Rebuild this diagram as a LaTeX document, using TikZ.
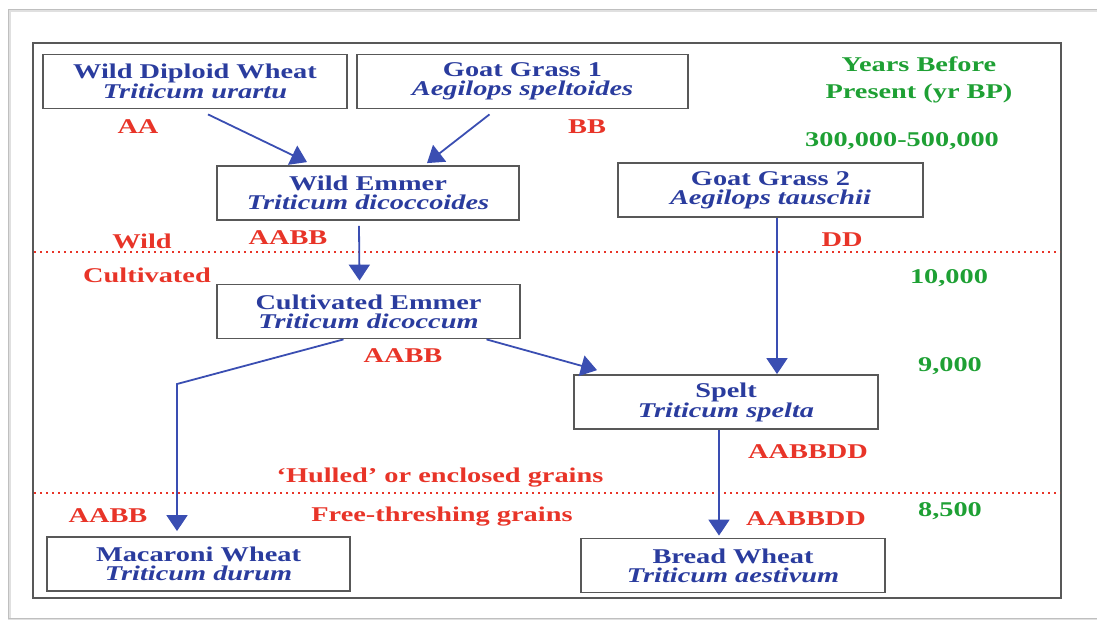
\documentclass[tikz,border=0pt]{standalone}
\usepackage{fontspec}
\setmainfont{Liberation Serif}[FakeStretch=1.35]
\usetikzlibrary{arrows.meta}

\definecolor{spblue}{RGB}{42,60,158}
\definecolor{arrowblue}{RGB}{58,78,178}
\definecolor{genred}{RGB}{232,52,40}
\definecolor{yrgreen}{RGB}{30,160,52}
\definecolor{framegray}{RGB}{88,88,88}

\begin{document}
\begin{tikzpicture}[x=1pt, y=-1pt,
    font=\fontsize{21}{19}\selectfont\bfseries,
    spbox/.style={draw=framegray, line width=1.8pt, text=spblue, align=center,
        inner sep=0pt, minimum height=54pt},
    flow/.style={draw=arrowblue, line width=1.8pt, -{Triangle[width=21pt,length=16pt]}},
    genome/.style={text=genred, anchor=base, inner sep=0pt},
    yearlabel/.style={text=yrgreen, anchor=base, inner sep=0pt},
    zoneline/.style={draw=genred, line width=2pt, dash pattern=on 2pt off 4pt}]
    \useasboundingbox (0,0) rectangle (1097,619);
    \clip (0,0) rectangle (1097,619);

    % outer page frame and inner frame
    \draw[black!12, line width=3pt] (9,10) rectangle (1110,619);
    \draw[black!25, line width=1pt] (8,9) rectangle (1110,618);
    \draw[framegray, line width=1.8pt] (33,43) rectangle (1061,598);

    % species boxes
    \node[spbox, minimum width=304pt] (wdw) at (195,81.5) {Wild Diploid Wheat\\\itshape Triticum urartu};
    \node[spbox, minimum width=331pt] (gg1) at (522.5,81.5) {Goat Grass 1\\\itshape Aegilops speltoides};
    \node[spbox, minimum width=302pt] (wemmer) at (368,193) {Wild Emmer\\\itshape Triticum dicoccoides};
    \node[spbox, minimum width=305pt] (gg2) at (770.5,190) {Goat Grass 2\\\itshape Aegilops tauschii};
    \node[spbox, minimum width=303pt] (cemmer) at (368.5,311.5) {Cultivated Emmer\\\itshape Triticum dicoccum};
    \node[spbox, minimum width=304pt] (spelt) at (726,402) {Spelt\\\itshape Triticum spelta};
    \node[spbox, minimum width=303pt] (macaroni) at (198.5,564) {Macaroni Wheat\\\itshape Triticum durum};
    \node[spbox, minimum width=304pt] (bread) at (733,565.5) {Bread Wheat\\\itshape Triticum aestivum};

    % zone dividers
    \draw[zoneline] (34,252) -- (1060,252);
    \draw[zoneline] (34,493) -- (1060,493);

    % arrows
    \draw[flow] ([xshift=13pt,yshift=-5pt]wdw.south) -- ([xshift=-61pt,yshift=3pt]wemmer.north);
    \draw[flow] ([xshift=-33pt,yshift=-5pt]gg1.south) -- ([xshift=59pt,yshift=2pt]wemmer.north);
    \draw[flow] ([xshift=-9pt,yshift=-5pt]wemmer.south) -- ([xshift=-9pt,yshift=3pt]cemmer.north);
    \draw[flow] ([xshift=6.5pt]gg2.south) -- ([xshift=6.5pt]gg2.south |- spelt.north);
    \draw[flow] ([xshift=118pt]cemmer.south) -- ([xshift=-129pt,yshift=4pt]spelt.north);
    \coordinate (bend) at (177,384);
    \draw[flow, shorten >=5pt] ([xshift=-25pt]cemmer.south) -- (bend) -- (bend |- macaroni.north);
    \draw[flow, shorten >=2pt] ([xshift=-7pt]spelt.south) -- ([xshift=-7pt]spelt.south |- bread.north);

    % genomes and zone labels
    \node[genome] (aa) at (138,133) {AA};
    \node[genome] (bb) at (587,133) {BB};
    \node[genome] (wild) at (142,248) {Wild};
    \node[genome] (aabbwild) at (288,244) {AABB};
    \node[genome] (cult) at (147,282) {Cultivated};
    \node[genome] (dd) at (842,246) {DD};
    \node[genome] (aabbcult) at (403,362) {AABB};
    \node[genome] (hulled) at (440,482) {‘Hulled’ or enclosed grains};
    \node[genome] (free) at (442,521) {Free-threshing grains};
    \node[genome] (aabbdur) at (108,522) {AABB};
    \node[genome] (aabbddsp) at (808,458) {AABBDD};
    \node[genome] (aabbddbr) at (806,525) {AABBDD};

    % time scale
    \node[text=yrgreen, align=center, inner sep=0pt, font=\fontsize{21}{27}\selectfont\bfseries] (ybp) at (919,80) {Years Before\\Present (yr BP)};
    \node[yearlabel] (y1) at (902,146) {300,000-500,000};
    \node[yearlabel] (y2) at (949,283) {10,000};
    \node[yearlabel] (y3) at (950,371) {9,000};
    \node[yearlabel] (y4) at (950,516) {8,500};
\end{tikzpicture}
\end{document}
